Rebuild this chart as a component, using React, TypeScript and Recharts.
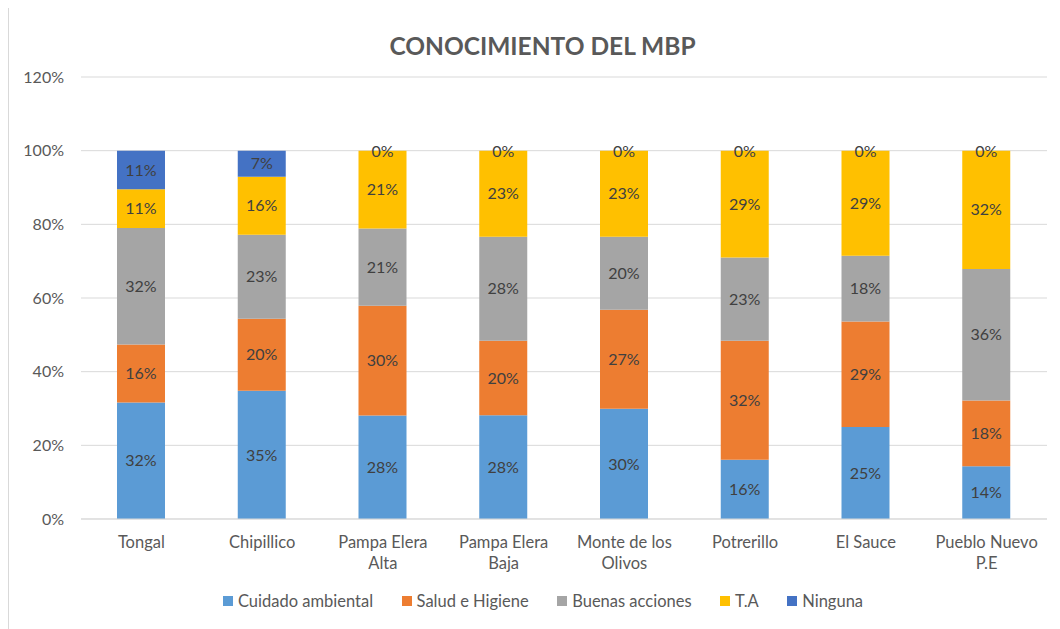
import React from 'react';
import { BarChart, Bar, XAxis, YAxis, CartesianGrid, Legend, LabelList } from 'recharts';

const categories = [
  'Tongal',
  'Chipillico',
  'Pampa Elera Alta',
  'Pampa Elera Baja',
  'Monte de los Olivos',
  'Potrerillo',
  'El Sauce',
  'Pueblo Nuevo P.E',
];
const cuidadoAmbiental = [31.6, 34.8, 28.1, 28.2, 29.9, 16.1, 25.0, 14.3];
const saludHigiene = [15.8, 19.6, 29.8, 20.2, 26.9, 32.3, 28.6, 17.9];
const buenasAcciones = [31.6, 22.8, 21.0, 28.2, 19.8, 22.6, 17.9, 35.7];
const ta = [10.5, 15.7, 21.1, 23.4, 23.4, 29.0, 28.5, 32.1];
const ninguna = [10.5, 7.1, 0, 0, 0, 0, 0, 0];
const yTicks = [0, 20, 40, 60, 80, 100, 120];

const series = [
  { key: 'cuidado', name: 'Cuidado ambiental', color: '#5B9BD5', values: cuidadoAmbiental },
  { key: 'salud', name: 'Salud e Higiene', color: '#ED7D31', values: saludHigiene },
  { key: 'buenas', name: 'Buenas acciones', color: '#A5A5A5', values: buenasAcciones },
  { key: 'ta', name: 'T.A', color: '#FFC000', values: ta },
  { key: 'ninguna', name: 'Ninguna', color: '#4472C4', values: ninguna },
];

const data = categories.map((name, i) => {
  const row: any = { name };
  series.forEach((s) => {
    row[s.key] = s.values[i];
  });
  return row;
});

const FONT = "Lato, 'Open Sans', sans-serif";
const TEXT = '#595959';
const LABEL = '#404040';
const pct = (v: any) => `${Math.round(Number(v))}%`;

// split long category names over two lines, like Excel does
function wrap(label: string, maxChars = 12) {
  const lines: string[] = [];
  let cur = '';
  label.split(' ').forEach((w) => {
    const next = cur ? cur + ' ' + w : w;
    if (next.length > maxChars && cur) {
      lines.push(cur);
      cur = w;
    } else {
      cur = next;
    }
  });
  if (cur) lines.push(cur);
  return lines;
}

const CategoryTick = ({ x, y, payload }: any) => {
  const lines = wrap(payload.value);
  return (
    <text x={x} y={y} textAnchor="middle" fill={TEXT} fontSize={16.5} fontFamily={FONT}>
      {lines.map((l, i) => (
        <tspan key={i} x={x} dy={i === 0 ? 21 : 20.6}>
          {l}
        </tspan>
      ))}
    </text>
  );
};

// zero-height "Ninguna" segments still get their 0% label, sitting on top of the stack
const ZeroLabel = ({ x, y, width, value }: any) => {
  if (Number(value) !== 0) return null;
  return (
    <text
      x={x + width / 2}
      y={y}
      textAnchor="middle"
      dominantBaseline="central"
      fill={LABEL}
      fontSize={16}
      fontFamily={FONT}
    >
      {pct(value)}
    </text>
  );
};

const LegendContent = () => (
  <div
    style={{
      display: 'flex',
      justifyContent: 'center',
      gap: 28.5,
      fontFamily: FONT,
      fontSize: 16.5,
      color: TEXT,
      paddingTop: 2,
      paddingLeft: 30,
    }}
  >
    {series.map((s) => (
      <div key={s.key} style={{ display: 'flex', alignItems: 'center' }}>
        <span style={{ width: 10, height: 10, background: s.color, marginRight: 5, display: 'inline-block' }} />
        <span>{s.name}</span>
      </div>
    ))}
  </div>
);

export default function App() {
  return (
    <div
      style={{
        position: 'relative',
        marginTop: -3,
        width: 1051,
        height: 623,
        borderTop: '1px solid #D9D9D9',
        borderLeft: '1px solid #D9D9D9',
        background: '#fff',
      }}
    >
      <div
        style={{
          position: 'absolute',
          top: 25,
          left: 8,
          width: 1051,
          textAlign: 'center',
          fontFamily: FONT,
          fontWeight: 700,
          fontSize: 24.5,
          color: TEXT,
        }}
      >
        CONOCIMIENTO DEL MBP
      </div>
      <div style={{ position: 'absolute', top: 0, left: 0 }}>
        <BarChart
          width={1051}
          height={623}
          data={data}
          margin={{ top: 71, right: 13, left: 0, bottom: 0 }}
        >
          <CartesianGrid vertical={false} stroke="#D9D9D9" />
          <XAxis
            dataKey="name"
            tick={<CategoryTick />}
            tickLine={false}
            axisLine={{ stroke: '#D9D9D9' }}
            height={70}
            interval={0}
          />
          <YAxis
            domain={[0, 120]}
            ticks={yTicks}
            tickFormatter={(v) => `${v}%`}
            tick={{ fill: TEXT, fontSize: 16, fontFamily: FONT }}
            tickLine={false}
            axisLine={false}
            tickMargin={11}
            width={72}
          />
          <Legend verticalAlign="bottom" height={40} content={<LegendContent />} />
          {series.map((s) => (
            <Bar
              key={s.key}
              dataKey={s.key}
              name={s.name}
              stackId="a"
              fill={s.color}
              barSize={48}
              isAnimationActive={false}
            >
              <LabelList
                dataKey={s.key}
                position="center"
                formatter={pct}
                fill={LABEL}
                fontSize={16}
                fontFamily={FONT}
              />
              {s.key === 'ta' && <LabelList dataKey="ninguna" content={<ZeroLabel />} />}
            </Bar>
          ))}
        </BarChart>
      </div>
    </div>
  );
}
